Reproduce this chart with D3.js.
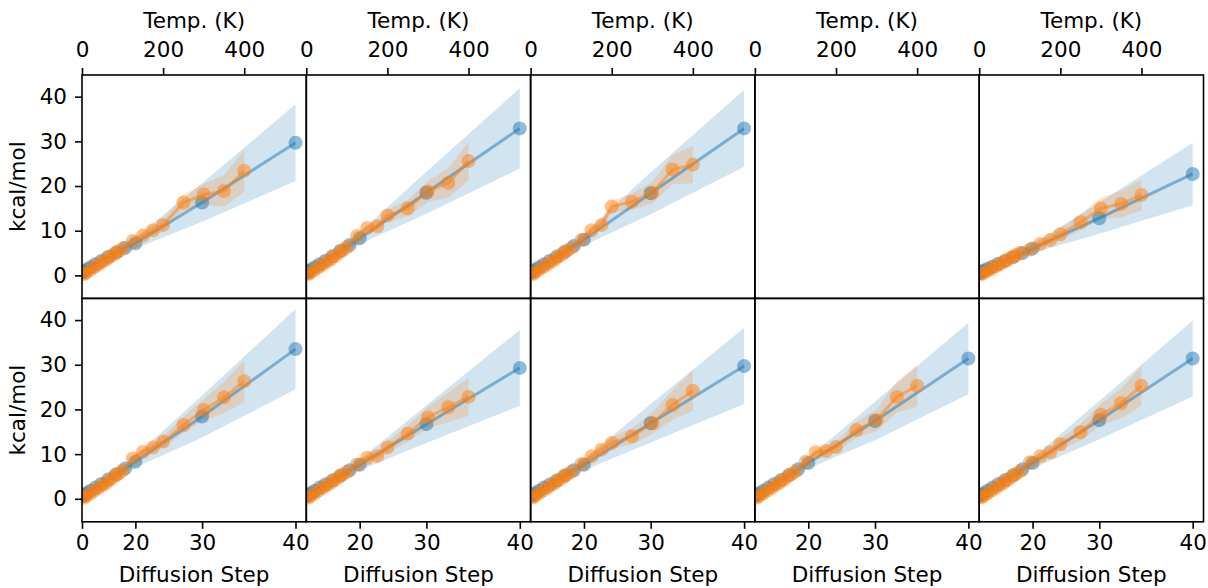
<!DOCTYPE html>
<html><head><meta charset="utf-8">
<script src="https://cdn.jsdelivr.net/npm/d3@7"></script>
<style>
body{margin:0;background:#fff;}
text{font-family:"DejaVu Sans",sans-serif;fill:#000;}
</style>
</head><body>
<svg id="chart" width="1208" height="588"></svg>
<script>
// ---------- data ----------
const tempTicks = [0, 200, 400];
const stepTicks = [0, 20, 30, 40];
const stepTicksInner = [20, 30, 40];
const yTicks = [0, 10, 20, 30, 40];
const blueSteps = [0, 2, 4, 6, 8, 10, 12, 14, 16, 18, 20, 30, 40];
const orangeTemps = [5, 10, 20, 30, 40, 50, 60, 70, 80, 90, 100, 125, 150, 175, 200, 250, 300, 350, 400];

// per panel (row-major, 2 rows x 5 cols); null = empty panel
const blueMean = [
  [0.6,0.7,0.9,1.3,1.8,2.5,3.2,4.1,5.1,6.2,7.2,16.3,29.7],
  [0.6,0.7,0.9,1.3,1.8,2.5,3.3,4.3,5.5,6.8,8.3,18.5,32.9],
  [0.6,0.7,0.9,1.3,1.8,2.5,3.3,4.2,5.3,6.6,8.0,18.4,32.9],
  null,
  [0.5,0.6,0.8,1.1,1.5,2.0,2.6,3.3,4.1,5.0,6.0,12.8,22.7],
  [0.6,0.7,0.9,1.3,1.8,2.5,3.3,4.3,5.5,6.8,8.3,18.4,33.5],
  [0.6,0.7,0.9,1.3,1.8,2.5,3.2,4.1,5.2,6.4,7.6,16.7,29.3],
  [0.6,0.7,0.9,1.3,1.8,2.5,3.2,4.1,5.2,6.4,7.6,16.9,29.7],
  [0.6,0.7,0.9,1.3,1.8,2.5,3.3,4.2,5.3,6.6,8.0,17.4,31.4],
  [0.6,0.7,0.9,1.3,1.8,2.5,3.3,4.2,5.3,6.6,8.0,17.6,31.4]
];
const blueStd = [
  [0.3,0.3,0.3,0.35,0.4,0.5,0.6,0.7,0.8,1.0,1.2,4.3,8.6],
  [0.3,0.3,0.3,0.35,0.4,0.5,0.6,0.7,0.8,1.0,1.3,4.7,9.0],
  [0.3,0.3,0.3,0.35,0.4,0.5,0.6,0.7,0.8,1.0,1.3,4.7,8.6],
  null,
  [0.3,0.3,0.3,0.3,0.35,0.4,0.5,0.6,0.7,0.8,1.0,3.5,7.0],
  [0.3,0.3,0.3,0.35,0.4,0.5,0.6,0.7,0.8,1.0,1.3,4.7,9.0],
  [0.3,0.3,0.3,0.35,0.4,0.5,0.6,0.7,0.8,1.0,1.2,4.2,8.5],
  [0.3,0.3,0.3,0.35,0.4,0.5,0.6,0.7,0.8,1.0,1.2,4.3,8.5],
  [0.3,0.3,0.3,0.35,0.4,0.5,0.6,0.7,0.8,1.0,1.2,4.3,8.0],
  [0.3,0.3,0.3,0.35,0.4,0.5,0.6,0.7,0.8,1.0,1.2,4.3,8.5]
];
const orangeMean = [
  [0.3,0.6,1.2,1.8,2.4,3.0,3.6,4.2,4.8,5.4,6.0,7.7,8.9,10.1,11.3,16.3,18.1,18.9,23.4],
  [0.3,0.6,1.2,1.8,2.4,3.0,3.6,4.3,5.0,5.6,6.3,8.8,10.6,11.0,13.4,15.0,18.8,20.7,25.6],
  [0.3,0.6,1.2,1.8,2.4,3.0,3.6,4.2,4.9,5.5,6.1,7.9,10.1,11.3,15.4,16.5,18.5,23.7,24.8],
  null,
  [0.3,0.5,1.0,1.5,2.0,2.5,3.0,3.5,4.0,4.5,5.0,5.8,7.0,7.9,9.2,11.9,15.0,16.0,18.0],
  [0.3,0.6,1.2,1.8,2.4,3.0,3.6,4.3,5.0,5.6,6.3,9.0,10.5,11.5,12.8,16.5,19.9,22.7,26.3],
  [0.3,0.6,1.2,1.8,2.4,3.0,3.6,4.2,4.8,5.4,6.0,7.7,9.2,9.6,11.5,14.6,18.2,20.5,22.8],
  [0.3,0.6,1.2,1.8,2.4,3.0,3.6,4.2,4.8,5.4,6.0,7.8,9.5,11.0,12.5,14.0,16.9,21.0,24.2],
  [0.3,0.6,1.2,1.8,2.4,3.0,3.6,4.2,4.9,5.5,6.1,8.3,10.4,10.7,11.6,15.4,17.6,22.8,25.3],
  [0.3,0.6,1.2,1.8,2.4,3.0,3.6,4.2,4.9,5.5,6.1,8.2,9.5,10.4,12.2,14.9,18.8,21.4,25.3]
];
const orangeStd = [
  [0.1,0.1,0.15,0.2,0.2,0.25,0.3,0.3,0.35,0.4,0.45,0.6,0.8,1.0,1.3,1.8,2.4,3.5,4.7],
  [0.1,0.1,0.15,0.2,0.2,0.25,0.3,0.3,0.35,0.4,0.45,0.6,0.8,1.0,1.3,1.8,2.4,3.3,4.3],
  [0.1,0.1,0.15,0.2,0.2,0.25,0.3,0.3,0.35,0.4,0.45,0.6,0.8,1.0,1.3,1.8,2.4,3.3,4.2],
  null,
  [0.1,0.1,0.15,0.2,0.2,0.25,0.3,0.3,0.35,0.4,0.45,0.6,0.8,1.0,1.3,1.8,2.4,3.0,3.5],
  [0.1,0.1,0.15,0.2,0.2,0.25,0.3,0.3,0.35,0.4,0.45,0.6,0.8,1.0,1.3,1.8,2.4,3.5,4.7],
  [0.1,0.1,0.15,0.2,0.2,0.25,0.3,0.3,0.35,0.4,0.45,0.6,0.8,1.0,1.3,1.8,2.4,3.3,4.2],
  [0.1,0.1,0.15,0.2,0.2,0.25,0.3,0.3,0.35,0.4,0.45,0.6,0.8,1.0,1.3,1.8,2.4,3.3,4.5],
  [0.1,0.1,0.15,0.2,0.2,0.25,0.3,0.3,0.35,0.4,0.45,0.6,0.8,1.0,1.3,1.8,2.4,3.5,4.7],
  [0.1,0.1,0.15,0.2,0.2,0.25,0.3,0.3,0.35,0.4,0.45,0.6,0.8,1.0,1.3,1.8,2.4,3.3,4.5]
];

// ---------- layout ----------
const nCols = 5, nRows = 2;
const left0 = 82, panelW = 224.3, top0 = 75, panelH = 223.4;
const tempDomain = [0, 553], stepDomain = [0, 41], yDomain = [-5.15, 44.85];
const blue = "#1f77b4", orange = "#ff7f0e";
const fontSize = 21.5;
const markerR = 7;

const svg = d3.select("#chart");

const xT = d3.scaleLinear().domain(tempDomain).range([0, panelW]);
const xS = d3.scalePow().exponent(2).domain(stepDomain).range([0, panelW]);
const y = d3.scaleLinear().domain(yDomain).range([panelH, 0]);

function styleAxis(g){
  g.select(".domain").remove();
  g.selectAll(".tick line").attr("stroke","#000").attr("stroke-width",1.6);
  g.selectAll(".tick text").attr("font-size",fontSize).attr("font-family","DejaVu Sans").attr("fill","#000");
}

for (let r = 0; r < nRows; r++) {
  for (let c = 0; c < nCols; c++) {
    const idx = r * nCols + c;
    const gx = left0 + c * panelW, gy = top0 + r * panelH;
    const g = svg.append("g").attr("transform", `translate(${gx},${gy})`);
    const clipId = "clip" + idx;
    g.append("clipPath").attr("id", clipId).append("rect").attr("width", panelW).attr("height", panelH);
    const plot = g.append("g").attr("clip-path", `url(#${clipId})`);

    if (blueMean[idx]) {
      const bm = blueMean[idx], bs = blueStd[idx];
      const bd = blueSteps.map((s, i) => ({x: xS(s), m: bm[i], s: bs[i]}));
      const om = orangeMean[idx], os = orangeStd[idx];
      const od = orangeTemps.map((t, i) => ({x: xT(t), m: om[i], s: os[i]}));

      const area = d3.area().x(d => d.x).y0(d => y(d.m - d.s)).y1(d => y(d.m + d.s));
      const line = d3.line().x(d => d.x).y(d => y(d.m));

      plot.append("path").datum(bd).attr("d", area).attr("fill", blue).attr("fill-opacity", 0.2);
      plot.append("path").datum(od).attr("d", area).attr("fill", orange).attr("fill-opacity", 0.2);

      plot.append("path").datum(bd).attr("d", line).attr("fill","none")
        .attr("stroke", blue).attr("stroke-opacity", 0.5).attr("stroke-width", 3);
      plot.selectAll(".bdot").data(bd).enter().append("circle")
        .attr("cx", d => d.x).attr("cy", d => y(d.m)).attr("r", markerR)
        .attr("fill", blue).attr("fill-opacity", 0.5);

      plot.append("path").datum(od).attr("d", line).attr("fill","none")
        .attr("stroke", orange).attr("stroke-opacity", 0.5).attr("stroke-width", 3);
      plot.selectAll(".odot").data(od).enter().append("circle")
        .attr("cx", d => d.x).attr("cy", d => y(d.m)).attr("r", markerR)
        .attr("fill", orange).attr("fill-opacity", 0.5);
    }

    // frame
    g.append("rect").attr("width", panelW).attr("height", panelH)
      .attr("fill","none").attr("stroke","#000").attr("stroke-width",1.6);

    if (r === 0) {
      const ax = g.append("g").call(d3.axisTop(xT).tickValues(tempTicks).tickSize(7).tickPadding(11).tickFormat(d3.format("d")));
      styleAxis(ax);
      g.append("text").attr("x", panelW/2).attr("y", -47).attr("text-anchor","middle")
        .attr("font-size", fontSize).text("Temp. (K)");
    }
    if (r === nRows - 1) {
      const ax = g.append("g").attr("transform", `translate(0,${panelH})`)
        .call(d3.axisBottom(xS).tickValues(c === 0 ? stepTicks : stepTicksInner).tickSize(7).tickPadding(6).tickFormat(d3.format("d")));
      styleAxis(ax);
      g.append("text").attr("x", panelW/2).attr("y", panelH + 60).attr("text-anchor","middle")
        .attr("font-size", fontSize).text("Diffusion Step");
    }
    if (c === 0) {
      const ax = g.append("g").call(d3.axisLeft(y).tickValues(yTicks).tickSize(7).tickPadding(8));
      styleAxis(ax);
      g.append("text").attr("transform", `translate(${25 - gx},${panelH/2}) rotate(-90)`)
        .attr("text-anchor","middle").attr("font-size", fontSize).text("kcal/mol");
    }
  }
}
</script>
</body></html>
